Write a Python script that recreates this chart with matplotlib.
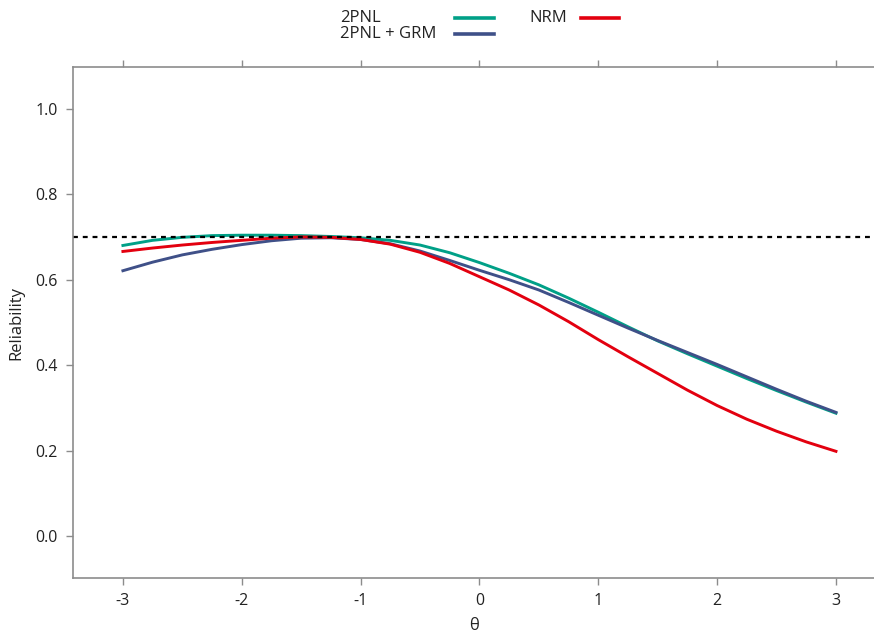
import matplotlib
matplotlib.use("Agg")
from matplotlib import pyplot as plt
from matplotlib.lines import Line2D

plt.rcParams['font.family'] = ['Open Sans', 'DejaVu Sans']

theta = [-3, -2.75, -2.5, -2.25, -2, -1.75, -1.5, -1.25, -1, -0.75, -0.5, -0.25,
         0, 0.25, 0.5, 0.75, 1, 1.25, 1.5, 1.75, 2, 2.25, 2.5, 2.75, 3]

rel_2pnl = [0.680, 0.692, 0.699, 0.703, 0.704, 0.704, 0.703, 0.701, 0.698, 0.692,
            0.681, 0.663, 0.640, 0.615, 0.588, 0.557, 0.524, 0.490, 0.457, 0.427,
            0.398, 0.369, 0.341, 0.314, 0.288]
rel_2pnl_grm = [0.621, 0.641, 0.658, 0.671, 0.682, 0.691, 0.697, 0.698, 0.694, 0.684,
                0.667, 0.645, 0.622, 0.600, 0.576, 0.547, 0.517, 0.487, 0.458, 0.430,
                0.402, 0.373, 0.344, 0.316, 0.290]
rel_nrm = [0.666, 0.674, 0.681, 0.687, 0.692, 0.697, 0.700, 0.699, 0.694, 0.683,
           0.664, 0.638, 0.607, 0.576, 0.541, 0.502, 0.460, 0.420, 0.381, 0.342,
           0.306, 0.274, 0.246, 0.221, 0.199]

labels = ['2PNL', '2PNL + GRM', 'NRM']
colors = ['#00A087', '#3F5088', '#E3000F']

cutoff = 0.7
xticks = [-3, -2, -1, 0, 1, 2, 3]
yticks = [0.0, 0.2, 0.4, 0.6, 0.8, 1.0]

fig = plt.figure(figsize=(8.74, 6.32), dpi=100)
ax = fig.add_axes([73 / 874, 1 - 578 / 632, 801 / 874, (578 - 67) / 632])

for series, col, lab in zip([rel_2pnl, rel_2pnl_grm, rel_nrm], colors, labels):
    ax.plot(theta, series, color=col, lw=2.1, label=lab, solid_joinstyle='round')
ax.axhline(cutoff, color='black', lw=1.6, ls=(0, (2.2, 2.2)))

ax.set_xlim(-3.42, 3.32)
ax.set_ylim(-0.097, 1.097)
ax.set_xticks(xticks)
ax.set_xticklabels([str(t) for t in xticks])
ax.set_yticks(yticks)
ax.set_yticklabels(['%.1f' % t for t in yticks])

spine_col = '#8c8c8c'
ax.spines['right'].set_visible(False)
for s in ['left', 'bottom', 'top']:
    ax.spines[s].set_color(spine_col)
    ax.spines[s].set_linewidth(1.2)

ax.tick_params(axis='both', direction='out', length=5, width=1, color=spine_col,
               labelsize=11.5, labelcolor='#222222', pad=6)
ax.tick_params(axis='x', top=True, labeltop=False)

ax.set_xlabel('θ', fontsize=12, color='#222222', labelpad=6)
ax.set_ylabel('Reliability', fontsize=12, color='#222222', labelpad=8)

# key above the plot: left-aligned labels with the line sample to their right
W, H = 874, 632
key = [(340, 18, 455, 494), (340, 34, 455, 494), (529, 18, 581, 619)]
for (tx, ty, x0, x1), col, lab in zip(key, colors, labels):
    fig.text(tx / W, 1 - ty / H, lab, fontsize=12, color='#222222',
             ha='left', va='center')
    fig.add_artist(Line2D([x0 / W, x1 / W], [1 - ty / H, 1 - ty / H],
                          transform=fig.transFigure, color=col, lw=2.6))

fig.savefig('out.png', dpi=100)
